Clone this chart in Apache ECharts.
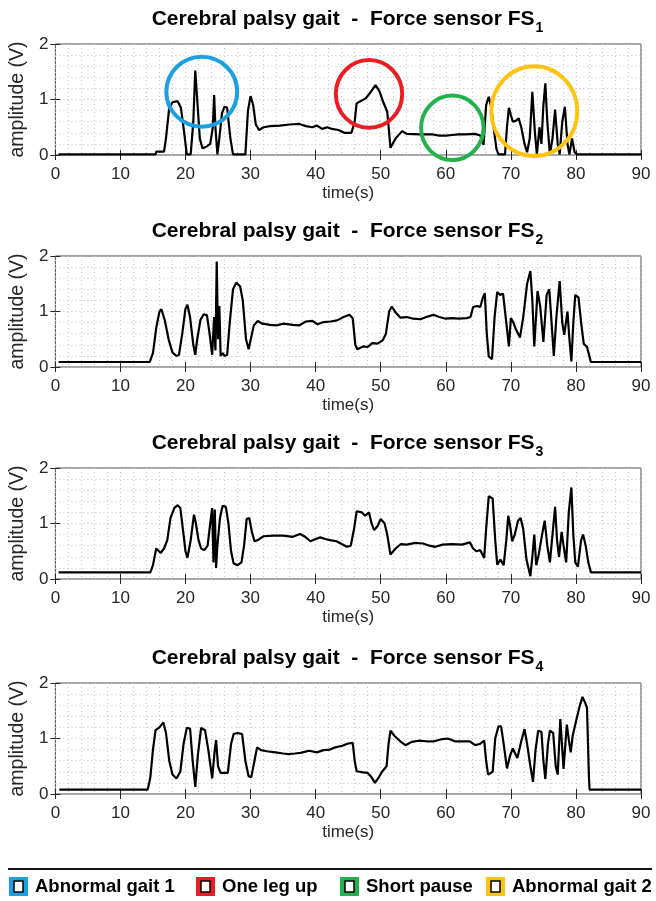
<!DOCTYPE html>
<html><head><meta charset="utf-8">
<script src="https://cdn.jsdelivr.net/npm/echarts@6/dist/echarts.min.js"></script>
<style>html,body{margin:0;padding:0;background:#fff}#c{width:656px;height:901px}</style>
</head><body><div id="c"></div>
<script>
// ---------- data (time s, amplitude V) ----------
const sensorIndex = ['1', '2', '3', '4'];
const xTicks = [0, 10, 20, 30, 40, 50, 60, 70, 80, 90];
const yTicks = [0, 1, 2];

const fs1 = [[0.5,0.01],[15.4,0.01],[15.5,0.06],[16.7,0.06],[17.0,0.3],[17.5,0.85],[18.0,0.95],[18.8,0.97],[19.3,0.85],[19.8,0.4],[20.2,0.01],[20.8,0.01],[21.2,0.6],[21.5,1.52],[21.8,1.0],[22.2,0.3],[22.6,0.12],[23.2,0.15],[23.8,0.2],[24.2,0.5],[24.4,1.08],[24.6,0.5],[24.9,0.01],[25.2,0.3],[25.6,0.75],[26.0,0.87],[26.4,0.85],[26.9,0.3],[27.3,0.01],[29.2,0.01],[29.6,0.8],[30.0,1.06],[30.4,0.9],[30.8,0.55],[31.3,0.45],[32.0,0.5],[33.0,0.52],[34.5,0.53],[36.0,0.55],[37.5,0.56],[38.5,0.52],[39.5,0.50],[40.2,0.53],[41.0,0.47],[41.8,0.5],[42.5,0.47],[43.5,0.45],[44.4,0.4],[45.5,0.4],[46.0,0.6],[46.3,0.93],[46.9,0.97],[47.7,1.02],[48.5,1.14],[49.2,1.26],[49.8,1.15],[50.4,0.95],[51.0,0.78],[51.3,0.4],[51.5,0.13],[52.3,0.3],[53.3,0.43],[54.0,0.38],[56.0,0.37],[58.0,0.37],[59.0,0.35],[60.0,0.35],[61.0,0.36],[62.0,0.37],[63.0,0.37],[64.5,0.38],[65.3,0.35],[65.8,0.18],[66.2,0.9],[66.6,1.05],[67.0,0.85],[67.4,0.45],[67.8,0.1],[68.1,0.01],[69.1,0.01],[69.4,0.5],[69.7,0.85],[70.0,0.72],[70.3,0.6],[70.8,0.62],[71.2,0.66],[71.6,0.5],[72.1,0.2],[72.5,0.05],[72.9,0.3],[73.3,1.14],[73.7,0.4],[74.0,0.01],[74.4,0.5],[74.7,0.2],[75.0,0.9],[75.3,1.29],[75.6,0.6],[76.0,0.01],[76.4,0.3],[76.8,0.82],[77.2,0.2],[77.5,0.01],[77.9,0.6],[78.3,0.87],[78.7,0.2],[79.0,0.01],[79.4,0.3],[79.8,0.05],[80.2,0.01],[90,0.01]];

const fs2 = [[0.5,0.09],[14.5,0.09],[15.0,0.25],[15.5,0.7],[16.0,1.0],[16.3,1.04],[16.8,0.85],[17.4,0.5],[18.0,0.26],[18.6,0.2],[19.0,0.22],[19.5,0.6],[20.0,1.05],[20.3,1.12],[20.7,0.9],[21.2,0.4],[21.5,0.22],[21.8,0.5],[22.3,0.85],[22.8,0.95],[23.3,0.93],[23.7,0.6],[24.1,0.22],[24.4,0.9],[24.6,0.3],[24.8,1.9],[25.0,0.5],[25.2,1.1],[25.4,0.2],[25.7,0.25],[26.0,0.2],[26.4,0.22],[26.8,0.8],[27.3,1.4],[27.8,1.52],[28.4,1.45],[28.8,1.2],[29.3,0.5],[29.7,0.32],[30.0,0.35],[30.5,0.75],[31.1,0.83],[31.8,0.78],[33.0,0.76],[34.0,0.75],[35.0,0.78],[36.5,0.76],[37.5,0.75],[38.5,0.82],[39.5,0.83],[40.3,0.77],[41.2,0.81],[42.3,0.82],[43.3,0.84],[44.3,0.9],[45.2,0.94],[45.7,0.88],[46.1,0.4],[46.4,0.32],[47.3,0.37],[48.0,0.36],[48.7,0.43],[49.5,0.42],[50.3,0.48],[50.8,0.6],[51.3,1.0],[51.7,1.09],[52.3,0.98],[53.0,0.89],[54.0,0.9],[55.0,0.87],[56.1,0.86],[57.0,0.9],[58.1,0.94],[59.0,0.9],[60.0,0.87],[61.0,0.88],[62.0,0.87],[63.2,0.88],[63.8,0.9],[64.2,1.08],[64.8,1.1],[65.3,1.08],[65.7,1.25],[66.0,1.33],[66.3,0.6],[66.6,0.19],[67.1,0.14],[67.5,0.9],[67.9,1.35],[68.3,1.3],[68.8,1.32],[69.3,0.8],[69.7,0.37],[70.0,0.88],[70.4,0.8],[70.7,0.7],[71.4,0.53],[71.9,0.9],[72.5,1.5],[73.0,1.73],[73.3,1.2],[73.6,0.37],[74.1,1.37],[74.5,1.1],[75.0,0.45],[75.5,1.3],[75.9,1.4],[76.2,0.9],[76.6,0.2],[77.0,0.9],[77.5,1.55],[77.9,0.8],[78.2,0.58],[78.7,1.0],[79.0,0.5],[79.3,0.1],[79.6,0.8],[79.9,1.3],[80.4,1.25],[80.8,0.8],[81.2,0.42],[81.7,0.36],[82.3,0.09],[90,0.09]];

const fs3 = [[0.5,0.12],[14.6,0.12],[15.0,0.25],[15.5,0.55],[15.8,0.58],[16.2,0.47],[16.7,0.55],[17.2,0.7],[17.7,1.1],[18.3,1.28],[18.8,1.33],[19.2,1.28],[19.6,0.9],[20.0,0.5],[20.3,0.38],[20.8,0.7],[21.3,1.16],[21.6,1.0],[22.0,0.7],[22.4,0.55],[22.9,0.52],[23.4,0.6],[23.8,1.0],[24.1,1.28],[24.3,0.3],[24.5,1.25],[24.7,0.2],[24.9,0.6],[25.3,1.1],[25.7,1.32],[26.2,1.3],[26.6,1.0],[27.0,0.5],[27.4,0.28],[28.0,0.25],[28.6,0.3],[29.0,0.6],[29.4,1.08],[29.8,1.1],[30.2,0.85],[30.6,0.68],[31.1,0.7],[32.0,0.77],[33.5,0.78],[35.0,0.78],[36.5,0.76],[37.6,0.81],[38.4,0.76],[39.2,0.68],[40.0,0.72],[40.7,0.75],[41.5,0.72],[42.2,0.7],[43.2,0.68],[44.0,0.63],[44.8,0.58],[45.4,0.6],[45.9,0.9],[46.3,1.22],[47.1,1.2],[47.6,1.14],[48.2,1.2],[48.6,1.0],[49.0,0.88],[49.5,0.95],[50.0,1.08],[50.6,1.0],[51.0,0.8],[51.5,0.44],[52.3,0.55],[53.1,0.63],[54.0,0.62],[55.3,0.65],[56.5,0.64],[57.5,0.6],[58.4,0.58],[59.5,0.62],[61.0,0.63],[62.5,0.62],[63.7,0.66],[64.2,0.55],[64.7,0.5],[65.3,0.52],[65.9,0.38],[66.2,0.9],[66.6,1.49],[67.2,1.45],[67.6,0.7],[67.9,0.26],[68.4,0.35],[68.9,0.25],[69.3,0.7],[69.6,1.14],[69.9,0.95],[70.2,0.68],[70.6,0.8],[71.1,1.05],[71.5,1.1],[71.9,0.9],[72.4,0.35],[73.0,0.05],[73.3,0.4],[73.6,0.8],[73.9,0.25],[74.3,0.45],[74.8,0.8],[75.2,1.05],[75.6,0.6],[76.0,0.3],[76.4,0.8],[76.8,1.3],[77.1,0.7],[77.4,0.4],[77.8,0.85],[78.1,0.6],[78.5,0.3],[78.9,1.2],[79.3,1.65],[79.6,0.8],[79.9,0.3],[80.3,0.22],[80.8,0.7],[81.1,0.8],[81.5,0.6],[81.9,0.3],[82.3,0.12],[90,0.12]];

const fs4 = [[0.6,0.08],[14.2,0.08],[14.6,0.3],[15.0,0.8],[15.4,1.15],[16.0,1.2],[16.6,1.29],[17.0,1.1],[17.5,0.6],[18.0,0.35],[18.6,0.28],[19.2,0.4],[19.7,0.9],[20.2,1.19],[20.7,1.18],[21.1,0.6],[21.5,0.13],[21.9,0.7],[22.4,1.19],[23.0,1.15],[23.5,0.8],[24.1,0.28],[24.5,0.8],[24.7,0.97],[25.0,0.5],[25.4,0.38],[25.9,0.38],[26.5,0.38],[27.0,0.9],[27.4,1.08],[28.0,1.1],[28.7,1.08],[29.2,0.6],[29.7,0.32],[30.1,0.3],[30.6,0.6],[31.0,0.84],[31.6,0.79],[32.5,0.77],[33.8,0.75],[35.0,0.73],[35.8,0.72],[36.8,0.73],[37.7,0.74],[39.0,0.78],[40.2,0.75],[41.2,0.79],[42.2,0.8],[43.0,0.84],[44.1,0.87],[45.0,0.91],[45.7,0.92],[46.0,0.6],[46.3,0.41],[47.3,0.39],[48.0,0.38],[48.6,0.3],[49.1,0.2],[49.6,0.28],[50.2,0.4],[50.9,0.5],[51.2,0.9],[51.5,1.14],[52.1,1.05],[53.0,0.95],[53.8,0.88],[54.8,0.94],[55.8,0.96],[57.0,0.95],[58.2,0.95],[59.5,0.99],[60.3,1.0],[61.4,0.95],[62.5,0.95],[63.7,0.95],[64.5,0.88],[65.2,0.9],[65.9,0.96],[66.2,0.6],[66.5,0.35],[67.2,0.4],[67.6,1.0],[68.1,1.22],[68.5,1.22],[68.9,0.9],[69.4,0.46],[69.9,0.7],[70.3,0.82],[70.6,0.85],[71.0,0.65],[71.6,0.95],[72.1,1.17],[72.5,0.9],[73.0,0.5],[73.4,0.22],[73.8,0.8],[74.2,1.14],[74.7,1.12],[75.0,0.6],[75.3,0.27],[75.7,0.9],[76.0,1.14],[76.5,1.1],[76.9,0.5],[77.2,0.35],[77.6,1.35],[78.1,0.45],[78.6,1.25],[79.0,0.9],[79.2,0.75],[79.5,1.05],[80.0,1.3],[80.5,1.55],[81.0,1.75],[81.4,1.65],[81.7,1.55],[82.0,0.3],[82.1,0.08],[90,0.08]];

const seriesData = [fs1, fs2, fs3, fs4];

// highlighted regions on FS1: centre (s, V) and radii (s, V)
const regionNames = ['Abnormal gait 1', 'One leg up', 'Short pause', 'Abnormal gait 2'];
const regionCenters = [[22.5, 1.14], [48.2, 1.10], [61.0, 0.49], [73.6, 0.79]];
const regionRadii = [[5.45, 0.63], [5.1, 0.61], [4.8, 0.58], [6.6, 0.81]];

// ---------- layout / style ----------
const regionColors = ['#1ba1e2', '#ec1c24', '#22b14c', '#ffc20e'];
const FONT = "'Liberation Sans', Arial, sans-serif";
const gridTops = [44, 256, 468, 683];
const GRID_LEFT = 54, GRID_RIGHT = 15, GRID_H = 111;
const AXIS_COLOR = '#262626';
const dotted = { color: '#c4c4c4', type: [1, 3], width: 1 };

const chart = echarts.init(document.getElementById('c'), null, { renderer: 'canvas' });

const grids = [], xAxes = [], yAxes = [], series = [];
gridTops.forEach((top, i) => {
  grids.push({ left: GRID_LEFT, right: GRID_RIGHT, top: top, height: GRID_H, show: true,
    borderColor: '#4a4a4a', borderWidth: 1, backgroundColor: '#fff' });
  const xCommon = { type: 'value', gridIndex: i, min: xTicks[0], max: xTicks[xTicks.length - 1],
    interval: xTicks[1] - xTicks[0] };
  xAxes.push(Object.assign({}, xCommon, {
    position: 'bottom', name: 'time(s)', nameLocation: 'middle', nameGap: 30,
    nameTextStyle: { fontFamily: FONT, fontSize: 17, color: AXIS_COLOR },
    axisLine: { show: false },
    axisTick: { show: true, inside: true, length: 5, lineStyle: { color: AXIS_COLOR } },
    axisLabel: { fontFamily: FONT, fontSize: 17, color: AXIS_COLOR, margin: 11 },
    splitLine: { show: true, lineStyle: dotted },
    minorTick: { show: false, splitNumber: 5 },
    minorSplitLine: { show: true, lineStyle: dotted }
  }));
  xAxes.push(Object.assign({}, xCommon, {
    position: 'top', axisLine: { show: false }, axisLabel: { show: false },
    axisTick: { show: true, inside: true, length: 5, lineStyle: { color: AXIS_COLOR } },
    splitLine: { show: false }
  }));
  const yCommon = { type: 'value', gridIndex: i, min: yTicks[0], max: yTicks[yTicks.length - 1],
    interval: yTicks[1] - yTicks[0] };
  yAxes.push(Object.assign({}, yCommon, {
    position: 'left', name: 'amplitude (V)', nameLocation: 'middle', nameGap: 26,
    nameTextStyle: { fontFamily: FONT, fontSize: 19.5, color: AXIS_COLOR },
    axisLine: { show: false },
    axisTick: { show: true, inside: true, length: 5, lineStyle: { color: AXIS_COLOR } },
    axisLabel: { fontFamily: FONT, fontSize: 17, color: AXIS_COLOR, margin: 7 },
    splitLine: { show: true, lineStyle: dotted },
    minorTick: { show: false, splitNumber: 5 },
    minorSplitLine: { show: true, lineStyle: dotted }
  }));
  yAxes.push(Object.assign({}, yCommon, {
    position: 'right', axisLine: { show: false }, axisLabel: { show: false },
    axisTick: { show: true, inside: true, length: 5, lineStyle: { color: AXIS_COLOR } },
    splitLine: { show: false }
  }));
  series.push({ type: 'line', xAxisIndex: 2 * i, yAxisIndex: 2 * i, data: seriesData[i],
    showSymbol: false, symbol: 'none', lineStyle: { color: '#000', width: 2.2 }, z: 5,
    animation: false });
});

chart.setOption({ animation: false, grid: grids, xAxis: xAxes, yAxis: yAxes, series: series });

// ---------- graphics: titles, region circles, legend ----------
const graphics = [];
const centerX = GRID_LEFT + (656 - GRID_LEFT - GRID_RIGHT) / 2;
gridTops.forEach((top, i) => {
  graphics.push({ type: 'text', id: 'title' + i, x: centerX, y: top - 35, z: 10,
    style: { text: '{a|Cerebral palsy gait  -  Force sensor FS}{s|' + sensorIndex[i] + '}',
      align: 'center', verticalAlign: 'top',
      rich: { a: { fontFamily: FONT, fontSize: 21, fontWeight: 'bold', fill: '#000', verticalAlign: 'top', lineHeight: 24 },
              s: { fontFamily: FONT, fontSize: 14, fontWeight: 'bold', fill: '#000', verticalAlign: 'top', padding: [12, 0, 0, 1], lineHeight: 15 } } } });
});
regionCenters.forEach((c, k) => {
  const p = chart.convertToPixel({ gridIndex: 0 }, c);
  const p2 = chart.convertToPixel({ gridIndex: 0 }, [c[0] + regionRadii[k][0], c[1] + regionRadii[k][1]]);
  const rx = Math.abs(p2[0] - p[0]), ry = Math.abs(p2[1] - p[1]);
  graphics.push({ type: 'circle', id: 'reg' + k, x: p[0], y: p[1], scaleX: rx / ry, scaleY: 1, z: 20,
    shape: { cx: 0, cy: 0, r: ry },
    style: { fill: 'none', stroke: regionColors[k], lineWidth: 4, strokeNoScale: true } });
});
// legend
graphics.push({ type: 'line', id: 'legLine', z: 10, shape: { x1: 8, y1: 869, x2: 652, y2: 869 },
  style: { stroke: '#111', lineWidth: 2 } });
const legTextX = [35, 222, 366, 512];
regionNames.forEach((name, k) => {
  graphics.push({ type: 'group', id: 'leg' + k, x: legTextX[k] - 26, y: 877, z: 10, children: [
    { type: 'rect', shape: { x: 0, y: 0, width: 19, height: 19 }, style: { fill: regionColors[k] } },
    { type: 'rect', shape: { x: 5, y: 4, width: 9, height: 11 }, style: { fill: '#fff', stroke: '#000', lineWidth: 1.5 } },
    { type: 'text', x: 26, y: 10, style: { text: name, fontFamily: FONT, fontSize: 18.5, fontWeight: 'bold',
      fill: '#000', verticalAlign: 'middle', align: 'left' } }
  ]});
});
chart.setOption({ graphic: graphics });
</script></body></html>
